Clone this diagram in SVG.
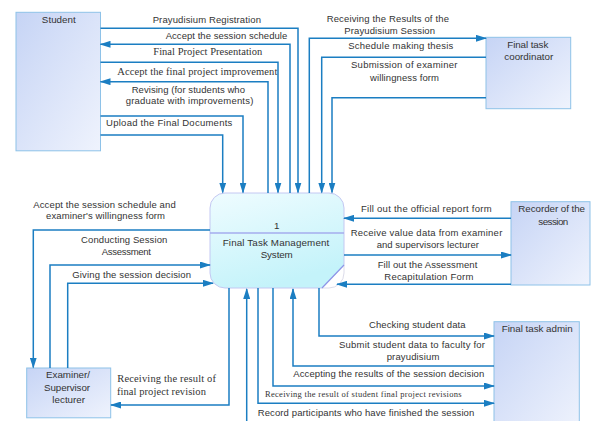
<svg xmlns="http://www.w3.org/2000/svg" width="592" height="421" viewBox="0 0 592 421">
<defs>
<linearGradient id="ent" x1="0" y1="0" x2="1" y2="1">
<stop offset="0" stop-color="#c6d4f5"/>
<stop offset="1" stop-color="#eff3fd"/>
</linearGradient>
<linearGradient id="proc" x1="0" y1="0" x2="0.4" y2="1">
<stop offset="0" stop-color="#effcff"/>
<stop offset="1" stop-color="#c4f3fa"/>
</linearGradient>
<marker id="ah" markerWidth="11" markerHeight="7" refX="10" refY="3.5" orient="auto" markerUnits="userSpaceOnUse">
<path d="M0,0 L11,3.5 L0,7 z" fill="#1b7ec2"/>
</marker>
<style>
.c{fill:none;stroke:#1b7ec2;stroke-width:1.5}
.e{fill:url(#ent);stroke:#8ec2e8;stroke-width:1}
.s{font-family:"Liberation Sans",Arial,sans-serif;font-size:9.5px;fill:#333;text-anchor:middle}
.n{font-family:"Liberation Sans",Arial,sans-serif;font-size:9.8px;fill:#333;text-anchor:middle}
.t{font-family:"Liberation Serif","Times New Roman",serif;font-size:10.5px;fill:#333;text-anchor:middle}
.ts{font-family:"Liberation Serif","Times New Roman",serif;font-size:8.5px;fill:#333;text-anchor:middle}
</style>
</defs>
<rect width="592" height="421" fill="#fff"/>

<g id="student">
<rect class="e" x="16" y="12.3" width="84.5" height="138.5"/>
<text class="n" x="58.8" y="23.3" textLength="34">Student</text>
</g>
<g id="coordinator">
<rect class="e" x="486" y="37.3" width="84.7" height="71.4"/>
<text class="n" x="527.8" y="48.3" textLength="41">Final task</text>
<text class="n" x="528.8" y="60" textLength="49">coordinator</text>
</g>
<g id="recorder">
<rect class="e" x="511" y="201.7" width="79" height="83.3"/>
<text class="n" x="551.7" y="212.3" textLength="66.7">Recorder of the</text>
<text class="n" x="553.3" y="225" textLength="30">session</text>
</g>
<g id="admin">
<rect class="e" x="494" y="321.7" width="85.3" height="110"/>
<text class="n" x="537.2" y="331.6" textLength="71">Final task admin</text>
</g>
<g id="examiner">
<rect class="e" x="26.7" y="368" width="84" height="49.8"/>
<text class="n" x="68" y="378.3" textLength="44">Examiner/</text>
<text class="n" x="67" y="391" textLength="46">Supervisor</text>
<text class="n" x="68.7" y="403.3" textLength="32.7">lecturer</text>
</g>
<g id="process">
<path d="M225,193 H329 A15,15 0 0 1 344,208 V265 L322,288 H225 A15,15 0 0 1 210,273 V208 A15,15 0 0 1 225,193 Z" fill="url(#proc)" stroke="#c4c8f2" stroke-width="1"/>
<path d="M344,265 V273 A15,15 0 0 1 329,288 H322" fill="none" stroke="#dcdcea" stroke-width="1"/>
<line x1="322" y1="288" x2="344" y2="265" stroke="#8e96e8" stroke-width="1.2"/>
<line x1="210" y1="233" x2="344" y2="233" stroke="#a4acee" stroke-width="1.5"/>
<text class="n" x="276.7" y="228.5">1</text>
<text class="n" x="276" y="246" textLength="106.6">Final Task Management</text>
<text class="n" x="276.7" y="258.3" textLength="32">System</text>
</g>

<g id="connectors">
<path class="c" d="M100.5,28.3 H298 V192.5" marker-end="url(#ah)"/>
<path class="c" d="M290,193 V44.3 H100.5" marker-end="url(#ah)"/>
<path class="c" d="M100.5,62.3 H278 V192.5" marker-end="url(#ah)"/>
<path class="c" d="M268,193 V81.7 H100.5" marker-end="url(#ah)"/>
<path class="c" d="M100.5,116 H243 V192.5" marker-end="url(#ah)"/>
<path class="c" d="M100.5,135 H222.7 V192.5" marker-end="url(#ah)"/>
<path class="c" d="M309.3,193 V38.3 H486" marker-end="url(#ah)"/>
<path class="c" d="M486,57.3 H321.7 V192.5" marker-end="url(#ah)"/>
<path class="c" d="M486,97.7 H332 V192.5" marker-end="url(#ah)"/>
<path class="c" d="M210,230 H33.3 V367.5" marker-end="url(#ah)"/>
<path class="c" d="M50,368 V265 H210" marker-end="url(#ah)"/>
<path class="c" d="M67.7,368 V283.3 H213" marker-end="url(#ah)"/>
<path class="c" d="M229,288 V405 H111" marker-end="url(#ah)"/>
<path class="c" d="M246.7,421 V289" marker-end="url(#ah)"/>
<path class="c" d="M258,288 V403.3 H494" marker-end="url(#ah)"/>
<path class="c" d="M273,288 V386 H494" marker-end="url(#ah)"/>
<path class="c" d="M494,366 H293 V289" marker-end="url(#ah)"/>
<path class="c" d="M319,288 V336 H494" marker-end="url(#ah)"/>
<path class="c" d="M511,218.3 H344" marker-end="url(#ah)"/>
<path class="c" d="M344,255 H511" marker-end="url(#ah)"/>
<path class="c" d="M511,284.3 H337" marker-end="url(#ah)"/>
</g>

<g id="labels">
<text class="s" x="206.8" y="22.6" textLength="108.3">Prayudisium Registration</text>
<text class="s" x="226.5" y="39" textLength="121.6">Accept the session schedule</text>
<text class="t" x="207.8" y="55.3" textLength="109">Final Project Presentation</text>
<text class="t" x="197.3" y="75.3" textLength="160">Accept the final project improvement</text>
<text class="s" x="188.3" y="92.6" textLength="113.3">Revising (for students who</text>
<text class="s" x="189.5" y="104" textLength="127.6">graduate with improvements)</text>
<text class="s" x="169.2" y="126" textLength="126.3">Upload the Final Documents</text>
<text class="s" x="387.8" y="22.3" textLength="122.3">Receiving the Results of the</text>
<text class="s" x="389.7" y="34.3" textLength="90.7">Prayudisium Session</text>
<text class="s" x="400.8" y="49" textLength="105">Schedule making thesis</text>
<text class="s" x="404.2" y="68.3" textLength="106.3">Submission of examiner</text>
<text class="s" x="404.5" y="80.6" textLength="69">willingness form</text>
<text class="s" x="104.5" y="208.3" textLength="142.4">Accept the session schedule and</text>
<text class="s" x="105.5" y="219.3" textLength="119">examiner's willingness form</text>
<text class="s" x="124.2" y="243.3" textLength="86.3">Conducting Session</text>
<text class="s" x="126.3" y="255" textLength="49.3">Assessment</text>
<text class="s" x="131.7" y="277.6" textLength="118.7">Giving the session decision</text>
<text class="t" x="166.6" y="381.9" textLength="98.7">Receiving the result of</text>
<text class="t" x="161.4" y="395.3" textLength="89">final project revision</text>
<text class="s" x="426.3" y="212.3" textLength="130.7">Fill out the official report form</text>
<text class="s" x="426.5" y="236" textLength="151.6">Receive value data from examiner</text>
<text class="s" x="427.8" y="247.6" textLength="102.3">and supervisors lecturer</text>
<text class="s" x="427.5" y="267.6" textLength="99.6">Fill out the Assessment</text>
<text class="s" x="428.8" y="280" textLength="89">Recapitulation Form</text>
<text class="s" x="417.3" y="327.6" textLength="96.7">Checking student data</text>
<text class="s" x="412" y="348.3" textLength="146">Submit student data to faculty for</text>
<text class="s" x="413" y="360" textLength="52.6">prayudisium</text>
<text class="s" x="388.8" y="376.6" textLength="191">Accepting the results of the session decision</text>
<text class="ts" x="363.3" y="397" textLength="196.7">Receiving the result of student final project revisions</text>
<text class="s" x="366" y="416" textLength="216.6">Record participants who have finished the session</text>
</g>
</svg>
